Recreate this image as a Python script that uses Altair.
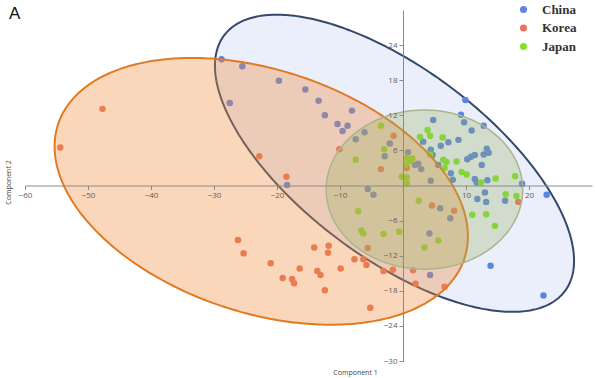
import numpy as np
import pandas as pd
import altair as alt

# ---------------- data ----------------
groups = ["China", "Korea", "Japan"]
colors = ["#5b85e0", "#e8735a", "#7fe32b"]

china_x = [-28.8, -25.5, -19.7, -15.5, -27.5, -13.4, -8.1, -12.4, -10.4, -8.8,
           -9.6, -6.1, -7.5, -2.1, -2.9, -18.4, -5.6, -4.7, 0.8, 2.4,
           1.9, 2.9, 4.4, 4.8, 9.9, 9.2, 9.7, 12.8, 10.9, 3.2,
           7.2, 6.0, 8.8, 4.4, 13.3, 13.6, 11.4, 10.8, 10.2, 12.8,
           4.7, 5.6, 12.5, 7.6, 7.9, 11.4, 11.7, 13.4, 18.9, 13.0,
           11.8, 13.2, 16.2, 22.8, 5.9, 7.5, 4.2, 4.3, 13.9, 22.3]
china_y = [21.6, 20.4, 17.9, 16.4, 14.1, 14.5, 12.8, 12.0, 10.5, 10.2,
           9.3, 9.1, 7.9, 7.2, 5.0, 0.1, -0.6, -1.6, 5.7, 3.7,
           3.5, 2.8, 0.8, 11.2, 14.6, 12.1, 10.8, 10.2, 9.4, 7.5,
           7.4, 6.8, 7.8, 6.1, 6.3, 5.6, 5.2, 4.9, 4.5, 5.3,
           5.2, 3.5, 3.5, 2.1, 1.0, 1.1, 0.5, 0.9, 0.3, -1.2,
           -2.3, -2.8, -2.6, -1.6, -3.9, -5.6, -8.2, -15.3, -13.7, -18.8]

korea_x = [-47.7, -54.4, -22.8, -10.1, -18.5, -3.5, -1.5, 0.6, 4.6, 8.1,
           18.3, -5.6, -14.1, -11.8, -11.9, -7.7, -6.3, -5.8, -16.4, -13.6,
           -13.1, -9.9, -3.1, -1.6, 1.6, -12.4, 2.0, 6.6, -5.2, -26.2,
           -25.3, -21.0, -19.1, -17.6, -17.3]
korea_y = [13.1, 6.5, 5.0, 6.2, 1.5, 2.8, 8.5, 3.0, -3.4, -4.3,
           -2.8, -10.7, -10.6, -10.3, -11.5, -12.6, -12.6, -13.6, -14.2, -14.6,
           -15.3, -14.2, -14.6, -14.4, -14.5, -17.9, -16.8, -17.3, -20.9, -9.3,
           -11.6, -13.3, -15.8, -16.0, -16.7]

japan_x = [-3.5, -3.0, -7.5, -0.2, 0.6, 3.9, 4.3, 2.7, 6.3, 4.3,
           0.6, 1.5, 1.1, 0.5, 6.4, 6.9, 8.5, 6.6, 9.3, 10.1,
           14.7, 17.8, 12.4, 0.6, 2.5, 16.3, 18.0, 11.0, 13.2, 14.6,
           -7.1, -6.6, -6.3, -3.1, -0.6, 5.6, 3.4]
japan_y = [10.2, 6.2, 4.4, 1.5, 1.4, 9.5, 8.5, 8.3, 8.2, 5.3,
           4.7, 4.6, 4.1, 3.6, 4.4, 4.0, 4.1, 3.0, 2.3, 1.9,
           1.2, 1.6, 0.5, 0.4, -2.6, -1.5, -1.8, -5.0, -4.9, -6.9,
           -4.4, -7.7, -8.2, -8.3, -7.9, -9.4, -10.6]

# confidence ellipses (centre, spread along x / y, correlation)
ell_cx = [-1.35, -22.5, 3.4]
ell_cy = [3.8, -1.0, -0.7]
ell_sx = [28.5, 32.8, 15.6]
ell_sy = [25.4, 22.8, 13.6]
ell_rho = [-0.656, -0.336, 0.0]

x_ticks = [-60, -50, -40, -30, -20, -10, 10, 20]
y_ticks = [-30, -24, -18, -12, -6, 6, 12, 18, 24]
x_domain = [-60, 30]
y_domain = [-30, 30]

# ---------------- styles ----------------
ell_fill = ["#5b85e0", "#f28d3c", "#98b060"]
ell_fill_op = [0.13, 0.35, 0.3]
ell_stroke = ["#34496a", "#e07b22", "#aab48e"]
ell_stroke_w = [2.0, 2.0, 1.5]

W, H = 567, 351
x_off = -H * (0 - y_domain[0]) / (y_domain[1] - y_domain[0])   # put x-axis at y = 0
y_off = -W * (0 - x_domain[0]) / (x_domain[1] - x_domain[0])   # put y-axis at x = 0

xscale = alt.Scale(domain=x_domain, nice=False, zero=False)
yscale = alt.Scale(domain=y_domain, nice=False, zero=False)

common_axis = dict(grid=False, zindex=1, domainColor="#8a8a8a", tickColor="#8a8a8a",
                   tickSize=4, labelColor="#5e5e5e", labelFont="Open Sans", labelFontSize=8,
                   titleFont="Open Sans", titleFontSize=7, titleFontWeight="normal",
                   titleColor="#444", labelFlush=False)
xaxis = alt.Axis(values=x_ticks, offset=x_off, title="Component 1",
                 titleX=330, titleY=183, titleBaseline="top", labelPadding=2, **common_axis)
yaxis = alt.Axis(values=y_ticks, offset=y_off, title="Component 2",
                 titleX=-392, titleY=172, labelPadding=2, **common_axis)


def X(field):
    return alt.X(field, type="quantitative", scale=xscale, axis=xaxis)


def Y(field):
    return alt.Y(field, type="quantitative", scale=yscale, axis=yaxis)


def ellipse_layers(i):
    cx, cy, sx, sy, r = ell_cx[i], ell_cy[i], ell_sx[i], ell_sy[i], ell_rho[i]
    k = np.sqrt(1 - r ** 2)
    t = np.linspace(0, np.pi, 240)
    c, s = np.cos(t), np.sin(t)
    band = pd.DataFrame({
        "x": cx + sx * c,
        "ylo": cy + sy * (r * c - k * s),
        "yhi": cy + sy * (r * c + k * s),
    })
    tt = np.linspace(0, 2 * np.pi, 361)
    ring = pd.DataFrame({
        "x": cx + sx * np.cos(tt),
        "y": cy + sy * (r * np.cos(tt) + k * np.sin(tt)),
        "o": np.arange(len(tt)),
    })
    fill = alt.Chart(band).mark_area(
        fill=ell_fill[i], fillOpacity=ell_fill_op[i], strokeWidth=0
    ).encode(x=X("x"), y=Y("ylo"), y2=alt.Y2("yhi"))
    line = alt.Chart(ring).mark_line(
        color=ell_stroke[i], strokeWidth=ell_stroke_w[i]
    ).encode(x=X("x"), y=Y("y"), order=alt.Order("o:Q"))
    return [fill, line]


pts = pd.concat([
    pd.DataFrame({"x": china_x, "y": china_y, "country": "China"}),
    pd.DataFrame({"x": korea_x, "y": korea_y, "country": "Korea"}),
    pd.DataFrame({"x": japan_x, "y": japan_y, "country": "Japan"}),
], ignore_index=True)

points = alt.Chart(pts).mark_circle(size=42, opacity=1).encode(
    x=X("x"), y=Y("y"),
    color=alt.Color("country:N", scale=alt.Scale(domain=groups, range=colors),
                    legend=alt.Legend(title=None, orient="none", legendX=492, legendY=-7,
                                      labelFont="Liberation Serif", labelFontSize=13,
                                      labelFontWeight="bold",
                                      labelColor="#333", symbolType="circle",
                                      symbolSize=50, symbolStrokeWidth=0, symbolOpacity=1,
                                      labelOffset=12, rowPadding=4.5, padding=0)),
)

china_l = ellipse_layers(0)
korea_l = ellipse_layers(1)
japan_l = ellipse_layers(2)

chart = alt.layer(
    china_l[0], china_l[1], points, korea_l[0], korea_l[1], japan_l[0], japan_l[1]
).properties(
    width=W, height=H,
    autosize=alt.AutoSizeParams(type="none"),
    padding={"left": 25, "top": 10, "right": 3, "bottom": 17},
    title=alt.TitleParams("A", anchor="start", frame="group", fontSize=17,
                          font="Liberation Sans", fontWeight="normal", color="#111",
                          baseline="top", dx=-16, dy=24),
).configure_view(stroke=None)

chart.save("out.html", embed_options={"renderer": "svg", "actions": False})
